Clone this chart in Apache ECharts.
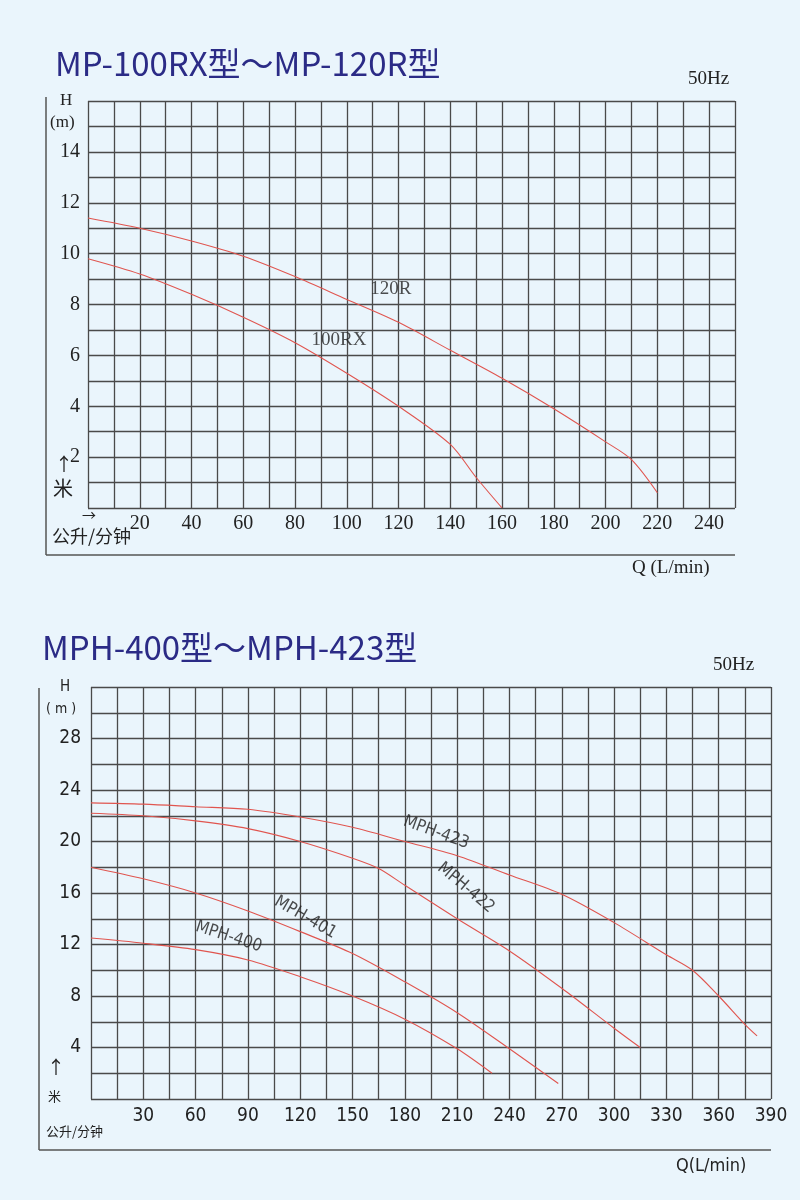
<!DOCTYPE html><html><head><meta charset="utf-8">
<script src="https://cdn.jsdelivr.net/npm/echarts@6/dist/echarts.min.js"></script>
<style>html,body{margin:0;background:#eaf5fc}#c{width:800px;height:1200px}</style></head><body><div id="c"></div><script>
const q120R=[[0,11.4],[20,11.0],[40,10.5],[60,9.9],[80,9.1],[100,8.2],[120,7.3],[140,6.2],[160,5.1],[180,3.9],[200,2.6],[210,1.9],[220,0.6]];
const q100RX=[[0,9.8],[20,9.2],[40,8.4],[60,7.5],[80,6.5],[100,5.3],[120,4.0],[140,2.5],[150,1.2],[160,0]];
const mph423=[[0,23.0],[30,22.9],[60,22.7],[90,22.5],[120,21.9],[150,21.1],[180,20.0],[210,18.9],[240,17.4],[270,15.9],[300,13.7],[330,11.2],[345,10.0],[360,8.0],[375,5.8],[382,4.9]];
const mph422=[[0,22.2],[30,22.0],[60,21.6],[90,21.0],[120,20.0],[150,18.7],[165,17.9],[180,16.6],[210,14.0],[240,11.5],[270,8.6],[300,5.5],[315,4.0]];
const mph401=[[0,18.0],[30,17.1],[60,16.0],[90,14.6],[120,13.0],[150,11.3],[180,9.1],[210,6.7],[240,3.9],[268,1.2]];
const mph400=[[0,12.5],[30,12.1],[60,11.6],[90,10.8],[120,9.5],[150,8.0],[180,6.2],[210,3.9],[230,2.0]];
const labelsTop=[{name:'120R',pos:[117,8.6],rot:0},{name:'100RX',pos:[97,6.6],rot:0}];
const labelsBot=[{name:'MPH-423',pos:[198,20.7],rot:-20},{name:'MPH-422',pos:[215,16.4],rot:-40},{name:'MPH-401',pos:[123,14.1],rot:-30},{name:'MPH-400',pos:[79,12.6],rot:-18}];
const grid='#4a4a4a', red='#e0554f';
const ax={axisLine:{show:false},axisTick:{show:false},splitLine:{show:true,lineStyle:{color:grid,width:1.3}}};
const numFont={color:'#222',fontFamily:'Liberation Serif',fontSize:20};
const line=(d,x)=>({type:'line',data:d,xAxisIndex:x,yAxisIndex:x,smooth:0.3,symbol:'none',lineStyle:{color:red,width:1.1}});
const lab=(L,x,font,fs)=>({type:'scatter',xAxisIndex:x,yAxisIndex:x,symbolSize:0,data:L.map(l=>({value:l.pos,label:{show:true,position:'inside',formatter:l.name,rotate:l.rot,color:'#222',fontFamily:font,fontSize:fs}}))});
const chart=echarts.init(document.getElementById('c'));
chart.setOption({
 backgroundColor:'#eaf5fc',
 grid:[{left:88,top:101,width:647,height:407},{left:91,top:687,width:680,height:412}],
 xAxis:[{...ax,min:0,max:250,interval:10,gridIndex:0,axisLabel:{...numFont,margin:6,formatter:v=>v>0&&v%20==0&&v<=240?v:''}},
        {...ax,min:0,max:390,interval:15,gridIndex:1,axisLabel:{...numFont,fontFamily:'DejaVu Sans Condensed',fontSize:19,margin:8,formatter:v=>v>0&&v%30==0?v:''}}],
 yAxis:[{...ax,min:0,max:16,interval:1,gridIndex:0,axisLabel:{...numFont,margin:8,formatter:v=>v>0&&v%2==0&&v<=14?v:''}},
        {...ax,min:0,max:32,interval:2,gridIndex:1,axisLabel:{...numFont,fontFamily:'DejaVu Sans Condensed',fontSize:19,margin:10,formatter:v=>v>0&&v%4==0&&v<=28?v:''}}],
 series:[line(q120R,0),line(q100RX,0),line(mph423,1),line(mph422,1),line(mph401,1),line(mph400,1),lab(labelsTop,0,'Liberation Serif',19),lab(labelsBot,1,'DejaVu Sans Condensed',17)],
 graphic:[
  {type:'text',left:55,top:47,style:{text:'MP-100RX型～MP-120R型',fill:'#2b2b86',font:'33px "Noto Sans CJK SC"'}},
  {type:'text',left:688,top:70,style:{text:'50Hz',fill:'#222',font:'19px "Liberation Serif"'}},
  {type:'text',left:60,top:92,style:{text:'H',fill:'#222',font:'17px "Liberation Serif"'}},
  {type:'text',left:50,top:114,style:{text:'(m)',fill:'#222',font:'17px "Liberation Serif"'}},
  {type:'line',shape:{x1:46,y1:97,x2:46,y2:555},style:{stroke:'#555',lineWidth:1.5}},
  {type:'line',shape:{x1:46,y1:555,x2:735,y2:555},style:{stroke:'#555',lineWidth:1.5}},
  {type:'text',left:55,top:455,style:{text:'↑',fill:'#222',font:'18px "Noto Sans CJK SC"'}},
  {type:'text',left:53,top:478,style:{text:'米',fill:'#222',font:'20px "Noto Sans CJK SC"'}},
  {type:'text',left:82,top:508,style:{text:'→',fill:'#222',font:'14px "Noto Sans CJK SC"'}},
  {type:'text',left:52,top:527,style:{text:'公升/分钟',fill:'#222',font:'18px "Noto Sans CJK SC"'}},
  {type:'text',left:632,top:559,style:{text:'Q (L/min)',fill:'#222',font:'19px "Liberation Serif"'}},
  {type:'text',left:42,top:631,style:{text:'MPH-400型～MPH-423型',fill:'#2b2b86',font:'33px "Noto Sans CJK SC"'}},
  {type:'text',left:713,top:656,style:{text:'50Hz',fill:'#222',font:'19px "Liberation Serif"'}},
  {type:'text',left:60,top:680,style:{text:'H',fill:'#222',font:'15px "DejaVu Sans Condensed"'}},
  {type:'text',left:46,top:702,style:{text:'( m )',fill:'#222',font:'14px "DejaVu Sans Condensed"'}},
  {type:'line',shape:{x1:39,y1:688,x2:39,y2:1150},style:{stroke:'#555',lineWidth:1.5}},
  {type:'line',shape:{x1:39,y1:1150,x2:771,y2:1150},style:{stroke:'#555',lineWidth:1.5}},
  {type:'text',left:47,top:1058,style:{text:'↑',fill:'#222',font:'18px "Noto Sans CJK SC"'}},
  {type:'text',left:48,top:1090,style:{text:'米',fill:'#222',font:'13px "Noto Sans CJK SC"'}},
  {type:'text',left:46,top:1125,style:{text:'公升/分钟',fill:'#222',font:'13px "Noto Sans CJK SC"'}},
  {type:'text',left:676,top:1157,style:{text:'Q(L/min)',fill:'#222',font:'18px "DejaVu Sans Condensed"'}}
 ]
});
</script></body></html>
